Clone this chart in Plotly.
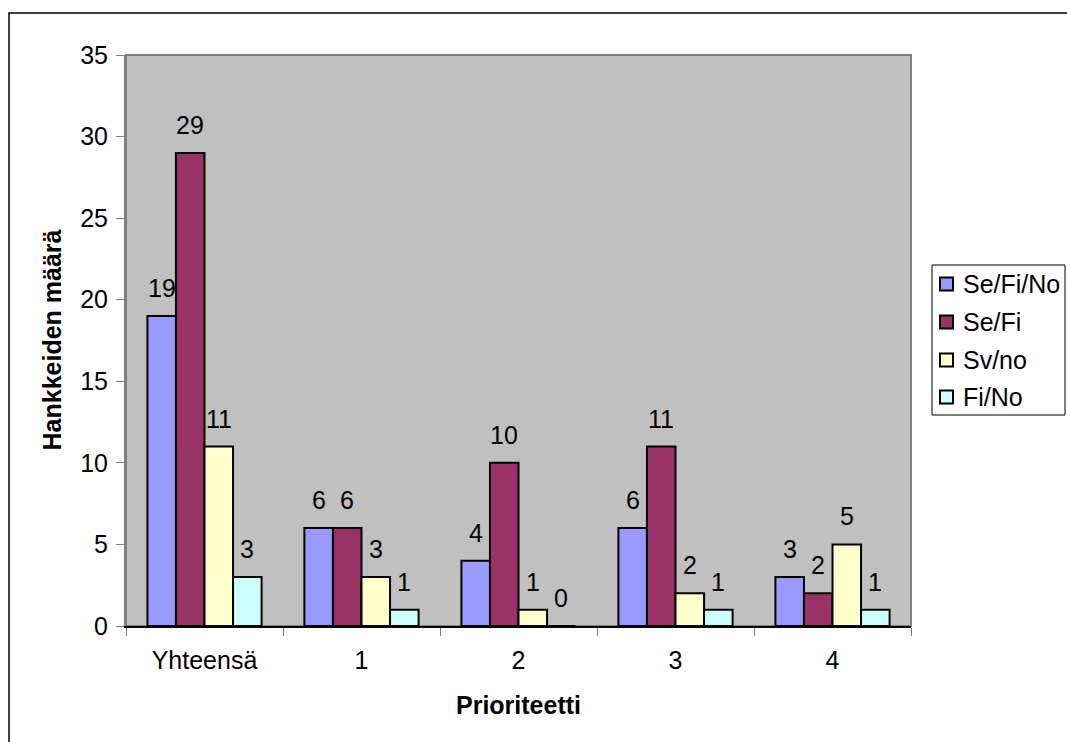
import plotly.graph_objects as go

categories = ["Yhteensä", "1", "2", "3", "4"]
series_names = ["Se/Fi/No", "Se/Fi", "Sv/no", "Fi/No"]
se_fi_no = [19, 6, 4, 6, 3]
se_fi = [29, 6, 10, 11, 2]
sv_no = [11, 3, 1, 2, 5]
fi_no = [3, 1, 0, 1, 1]
y_ticks = [0, 5, 10, 15, 20, 25, 30, 35]

colors = ["#9999FF", "#993366", "#FFFFCC", "#CCFFFF"]
values = [se_fi_no, se_fi, sv_no, fi_no]

OFF = 0  # body margin removed via post_script
W, H = 1067, 742
P_LEFT, P_RIGHT, P_TOP, P_BOTTOM = 126, 911, 55, 626
ML = P_LEFT - OFF
MR = (OFF + W) - P_RIGHT
MT = P_TOP - OFF
MB = (OFF + H) - P_BOTTOM
PW = P_RIGHT - P_LEFT
PH = P_BOTTOM - P_TOP
FONT = "Arial, Liberation Sans, sans-serif"
FS = 25
BARGAP = 1.5 / 5.5


def px_x(p):
    return (p - P_LEFT) / PW


def px_y(p):
    return (P_BOTTOM - p) / PH


fig = go.Figure()
n = len(series_names)
bar_w = PW / len(categories) * (1 - BARGAP) / n
annotations = []
shapes = []
for i, (name, vals, col) in enumerate(zip(series_names, values, colors)):
    fig.add_trace(go.Bar(
        x=categories, y=vals, name=name,
        marker=dict(color=col, line=dict(color="black", width=2)),
        showlegend=False, hoverinfo="skip",
    ))
    xs = (i - (n - 1) / 2) * bar_w
    for c, v in zip(categories, vals):
        annotations.append(dict(
            x=c, y=v, xref="x", yref="y", text=str(v), showarrow=False,
            xshift=xs, yshift=12, yanchor="bottom", xanchor="center",
            font=dict(family=FONT, size=FS, color="black"),
        ))

# legend drawn manually
LEG_L, LEG_R, LEG_T, LEG_B = 932, 1065, 265, 415
item_y = [284, 322, 360, 397]
shapes.append(dict(type="rect", xref="paper", yref="paper",
                   x0=px_x(LEG_L), x1=px_x(LEG_R), y0=px_y(LEG_B), y1=px_y(LEG_T),
                   line=dict(color="black", width=1), fillcolor="white", layer="above"))
for name, col, yy in zip(series_names, colors, item_y):
    shapes.append(dict(type="rect", xref="paper", yref="paper",
                       x0=px_x(940), x1=px_x(953), y0=px_y(yy + 6.5), y1=px_y(yy - 6.5),
                       line=dict(color="black", width=2), fillcolor=col, layer="above"))
    annotations.append(dict(x=px_x(961), y=px_y(yy), xref="paper", yref="paper",
                            text=name, showarrow=False, xanchor="left", yanchor="middle",
                            font=dict(family=FONT, size=FS, color="black")))

# axis titles
annotations.append(dict(x=px_x(51), y=px_y((P_TOP + P_BOTTOM) / 2), xref="paper", yref="paper",
                        text="<b>Hankkeiden määrä</b>", textangle=-90, showarrow=False,
                        xanchor="center", yanchor="middle",
                        font=dict(family=FONT, size=FS, color="black")))
annotations.append(dict(x=px_x((P_LEFT + P_RIGHT) / 2), y=px_y(705), xref="paper", yref="paper",
                        text="<b>Prioriteetti</b>", showarrow=False,
                        xanchor="center", yanchor="middle",
                        font=dict(family=FONT, size=FS, color="black")))

# plot area border (gray) and outer chart border
shapes.append(dict(type="rect", xref="paper", yref="paper", x0=0, x1=1, y0=0, y1=1,
                   line=dict(color="#808080", width=2), layer="below"))
shapes.append(dict(type="rect", xref="paper", yref="paper",
                   x0=px_x(9), x1=px_x(1090), y0=px_y(770), y1=px_y(13),
                   line=dict(color="black", width=1.5), fillcolor="rgba(0,0,0,0)"))

fig.update_layout(
    width=W, height=H,
    margin=dict(l=ML, r=MR, t=MT, b=MB, autoexpand=False),
    paper_bgcolor="white", plot_bgcolor="#C0C0C0",
    font=dict(family=FONT, size=FS, color="black"),
    barmode="group", bargap=BARGAP, bargroupgap=0,
    showlegend=False, hovermode=False,
    xaxis=dict(
        showline=True, linecolor="black", linewidth=1.5,
        ticks="outside", tickson="boundaries", ticklen=8, tickcolor="#808080", tickwidth=1,
        ticklabelstandoff=11,
        showgrid=False, tickfont=dict(family=FONT, size=FS, color="black"),
    ),
    yaxis=dict(
        range=[0, 35], tickvals=y_ticks, ticktext=[str(t) for t in y_ticks],
        showline=True, linecolor="#808080", linewidth=2,
        ticks="outside", ticklen=8, tickcolor="#808080", tickwidth=1,
        ticklabelstandoff=3,
        showgrid=False, zeroline=False, tickfont=dict(family=FONT, size=FS, color="black"),
    ),
    annotations=annotations,
    shapes=shapes,
)

fig.write_html(
    "out.html",
    config={"displayModeBar": False},
    post_script="document.body.style.margin='0';document.body.style.overflow='hidden';",
)
